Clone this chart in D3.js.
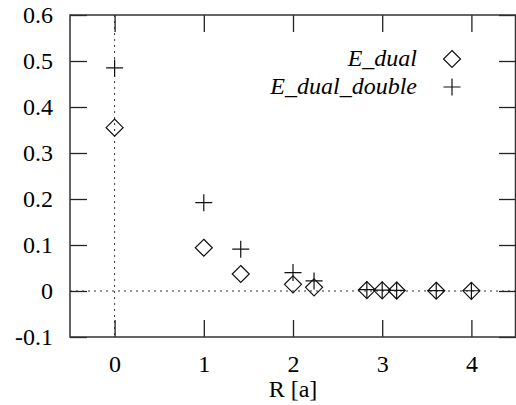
<!DOCTYPE html>
<html><head><meta charset="utf-8">
<script src="https://cdn.jsdelivr.net/npm/d3@7"></script>
<style>
@font-face{font-family:"PlotSerif";src:local("Liberation Serif"),local("LiberationSerif"),local("Liberation Serif Regular");font-style:normal;}
@font-face{font-family:"PlotSerif";src:local("Liberation Serif Italic"),local("LiberationSerif-Italic");font-style:italic;}
</style>
</head><body style="margin:0">
<svg id="c" width="516" height="405" font-family="Liberation Serif, serif"></svg>
<script>
const rValues = [0, 1, 1.414, 2, 2.236, 2.828, 3, 3.162, 3.606, 4];
const eDual = [0.355, 0.094, 0.037, 0.0145, 0.008, 0.002, 0.0015, 0.001, 0.0005, 0.0003];
const eDualDouble = [0.485, 0.192, 0.091, 0.040, 0.022, 0.003, 0.002, 0.0015, 0.001, 0.0005];
const xTicks = [0, 1, 2, 3, 4];
const yTicks = [-0.1, 0, 0.1, 0.2, 0.3, 0.4, 0.5, 0.6];
const yTickLabels = ["-0.1", "0", "0.1", "0.2", "0.3", "0.4", "0.5", "0.6"];
const seriesNames = ["E_dual", "E_dual_double"];

const svg = d3.select("#c");
const L = 70, R = 516, T = 15, B = 337;
const x = d3.scaleLinear().domain([-0.5, 4.5]).range([L, R]);
const y = d3.scaleLinear().domain([-0.1, 0.6]).range([B, T]);
const ink = "#000";
const FF = '"Liberation Serif", "PlotSerif", "Tinos", "FreeSerif", "DejaVu Serif", serif';
const fs = "24px";

// zero lines (dotted)
svg.append("line").attr("x1", L).attr("x2", R).attr("y1", y(0)).attr("y2", y(0))
  .attr("stroke", "#333").attr("stroke-width", 1).attr("stroke-dasharray", "2,4");
svg.append("line").attr("x1", x(0)).attr("x2", x(0)).attr("y1", T).attr("y2", B)
  .attr("stroke", "#333").attr("stroke-width", 1).attr("stroke-dasharray", "2,4");

// axes
const tl = 17;
const gB = svg.append("g").attr("transform", `translate(0,${B})`)
  .call(d3.axisBottom(x).tickValues(xTicks).tickFormat(d3.format("d")).tickSizeInner(-tl).tickSizeOuter(0).tickPadding(18));
const gT = svg.append("g").attr("transform", `translate(0,${T})`)
  .call(d3.axisTop(x).tickValues(xTicks).tickFormat("").tickSizeInner(-tl).tickSizeOuter(0));
const gL = svg.append("g").attr("transform", `translate(${L},0)`)
  .call(d3.axisLeft(y).tickValues(yTicks).tickFormat((d, i) => yTickLabels[i]).tickSizeInner(-tl).tickSizeOuter(0).tickPadding(17));
const gR = svg.append("g").attr("transform", `translate(${R},0)`)
  .call(d3.axisRight(y).tickValues(yTicks).tickFormat("").tickSizeInner(-tl).tickSizeOuter(0));
[gB, gT, gL, gR].forEach(g => {
  g.attr("font-family", "Liberation Serif, serif").attr("font-size", 24);
  g.select(".domain").remove();
  g.selectAll("line").attr("stroke", "#222").attr("stroke-width", 1.3);
  g.selectAll("text").attr("font-family", "Liberation Serif, serif").style("font-family", FF).style("font-size", fs).attr("fill", ink);
});

// frame
svg.append("rect").attr("x", L).attr("y", T).attr("width", R - L - 0.5).attr("height", B - T)
  .attr("fill", "none").attr("stroke", "#333").attr("stroke-width", 1.5);

svg.append("text").attr("x", x(2)).attr("y", 397).attr("text-anchor", "middle")
  .style("font-family", FF).style("font-size", fs).attr("fill", ink).text("R [a]");

// markers
const ds = 8.5, ps = 8.5;
const diamond = (cx, cy) => `M${cx},${cy - ds}L${cx + ds},${cy}L${cx},${cy + ds}L${cx - ds},${cy}Z`;
const plus = (cx, cy) => `M${cx - ps},${cy}H${cx + ps}M${cx},${cy - ps}V${cy + ps}`;

svg.append("g").selectAll("path").data(rValues.map((r, i) => [r, eDual[i]])).join("path")
  .attr("d", d => diamond(x(d[0]), y(d[1]))).attr("fill", "none").attr("stroke", "#111").attr("stroke-width", 1.2);
svg.append("g").selectAll("path").data(rValues.map((r, i) => [r, eDualDouble[i]])).join("path")
  .attr("d", d => plus(x(d[0]), y(d[1]))).attr("fill", "none").attr("stroke", "#111").attr("stroke-width", 1.2);

// legend
const legY = [59, 87];
seriesNames.forEach((n, i) => {
  svg.append("text").attr("x", 417).attr("y", legY[i] + 7).attr("text-anchor", "end")
    .style("font-family", FF).style("font-style", "italic").style("font-size", fs).attr("fill", ink).text(n);
});
svg.append("path").attr("d", diamond(452, legY[0])).attr("fill", "none").attr("stroke", "#111").attr("stroke-width", 1.2);
svg.append("path").attr("d", plus(452, legY[1])).attr("fill", "none").attr("stroke", "#111").attr("stroke-width", 1.2);
</script>
</body></html>
